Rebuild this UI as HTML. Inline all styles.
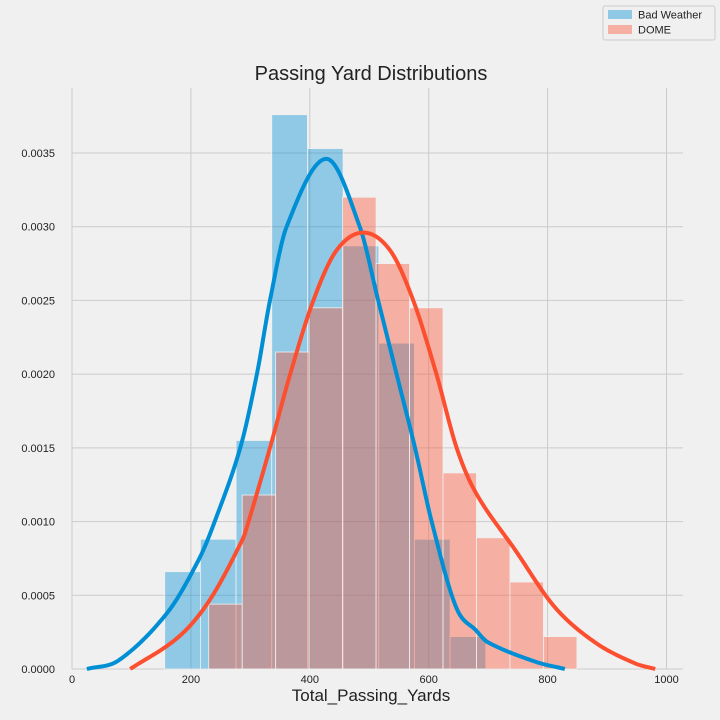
<!DOCTYPE html>
<html><head><meta charset="utf-8"><style>
html,body{margin:0;padding:0;background:#f0f0f0;}
svg{display:block;font-family:"Liberation Sans","DejaVu Sans",sans-serif;}
</style></head><body>
<svg id="chart" width="720" height="720" viewBox="0 0 720 720" xmlns="http://www.w3.org/2000/svg">
<rect width="720" height="720" fill="#f0f0f0"/>
<g id="grid"></g>
<g id="bars"></g>
<g id="lines"></g>
<g id="ticks"></g>
<text x="371" y="80" font-size="20" fill="#222" text-anchor="middle">Passing Yard Distributions</text>
<text x="371" y="701" font-size="17" fill="#222" text-anchor="middle">Total_Passing_Yards</text>
<g>
<rect x="603" y="6" width="112" height="34" fill="#f0f0f0" stroke="#ccc" rx="2"/>
<rect x="608" y="10" width="24" height="9" fill="#008fd5" fill-opacity="0.4"/>
<text x="638" y="18.5" font-size="11" fill="#222">Bad Weather</text>
<rect x="608" y="25" width="24" height="9" fill="#fc4f30" fill-opacity="0.4"/>
<text x="638" y="33.5" font-size="11" fill="#222">DOME</text>
</g>
</svg>
<script>
const xTicks=[0,200,400,600,800,1000];
const yTicks=[0,0.0005,0.001,0.0015,0.002,0.0025,0.003,0.0035];
const yTickLabels=["0.0000","0.0005","0.0010","0.0015","0.0020","0.0025","0.0030","0.0035"];
const badStart=156, badWidth=60;
const badHeights=[0.00066,0.00088,0.00155,0.00376,0.00353,0.00287,0.00221,0.00088,0.00022];
const domeStart=230, domeWidth=56.3;
const domeHeights=[0.00044,0.00118,0.00215,0.00245,0.0032,0.00275,0.00245,0.00133,0.00089,0.00059,0.00022];
const badKdeX=[25,79,160,213,240,283,311,333,361,428,484,515,546,577,605,646,680,700,779,829];
const badKdeY=[0,0.00006,0.00038,0.00074,0.001,0.0015,0.002,0.0025,0.003,0.00346,0.003,0.0025,0.002,0.0015,0.001,0.00042,0.00026,0.00018,0.00005,0];
const domeKdeX=[98,180,232,287,297,333,367,406,445,490,535,574,613,647,680,745,812,880,946,981];
const domeKdeY=[0,0.00022,0.00047,0.00088,0.001,0.0015,0.002,0.0025,0.00284,0.00296,0.00284,0.0025,0.002,0.0015,0.00119,0.00081,0.00042,0.00018,0.00004,0];
const NS="http://www.w3.org/2000/svg";
const L=72,R=683,T=88,B=669;
const xs=v=>72+v*0.5945;
const ys=v=>669-v*147429;
function mk(tag,attrs,parent){const e=document.createElementNS(NS,tag);for(const k in attrs)e.setAttribute(k,attrs[k]);parent.appendChild(e);return e;}
const grid=document.getElementById('grid'),ticks=document.getElementById('ticks'),bars=document.getElementById('bars'),lines=document.getElementById('lines');
xTicks.forEach(t=>{
 const l=mk('line',{x1:xs(t),x2:xs(t),y1:T,y2:B,stroke:'#cbcbcb','stroke-width':1},grid);
 
 
 const tx=mk('text',{x:xs(t),y:683,'font-size':11,fill:'#222','text-anchor':'middle'},ticks);
 tx.textContent=t;
 
 
});
yTicks.forEach((t,i)=>{
 const l=mk('line',{x1:L,x2:R,y1:ys(t),y2:ys(t),stroke:'#cbcbcb','stroke-width':1},grid);
 
 
 const tx=mk('text',{x:55,y:ys(t)+4,'font-size':11,fill:'#222','text-anchor':'end'},ticks);
 tx.textContent=yTickLabels[i];
 
 
});
function drawBars(start,w,hs,color,name){
 hs.forEach((h,i)=>{
  const x0=xs(start+i*w),x1=xs(start+(i+1)*w);
  const r=mk('rect',{x:x0,y:ys(h),width:x1-x0,height:ys(0)-ys(h),fill:color,'fill-opacity':0.4,stroke:'#f0f0f0','stroke-width':0.8},bars);
  
  
 });
}
drawBars(badStart,badWidth,badHeights,'#008fd5','bad-weather-bar');
drawBars(domeStart,domeWidth,domeHeights,'#fc4f30','dome-bar');
function hermite(xv,yv){
 const n=xv.length,m=new Array(n);
 m[0]=(yv[1]-yv[0])/(xv[1]-xv[0]);
 m[n-1]=(yv[n-1]-yv[n-2])/(xv[n-1]-xv[n-2]);
 for(let i=1;i<n-1;i++)m[i]=(yv[i+1]-yv[i-1])/(xv[i+1]-xv[i-1]);
 let path='M'+xs(xv[0])+','+ys(yv[0]);
 for(let i=0;i<n-1;i++){
  const h=xv[i+1]-xv[i];
  for(let v=xv[i]+2;v<xv[i+1];v+=2){
   const t=(v-xv[i])/h,t2=t*t,t3=t2*t;
   const y=Math.max(0,(2*t3-3*t2+1)*yv[i]+(t3-2*t2+t)*h*m[i]+(-2*t3+3*t2)*yv[i+1]+(t3-t2)*h*m[i+1]);
   path+=' L'+xs(v).toFixed(2)+','+ys(y).toFixed(2);
  }
  path+=' L'+xs(xv[i+1]).toFixed(2)+','+ys(yv[i+1]).toFixed(2);
 }
 return path;
}
const bl=mk('path',{d:hermite(badKdeX,badKdeY),fill:'none',stroke:'#008fd5','stroke-width':4,'stroke-linejoin':'round'},lines);


const dl=mk('path',{d:hermite(domeKdeX,domeKdeY),fill:'none',stroke:'#fc4f30','stroke-width':4,'stroke-linejoin':'round'},lines);


</script>
</body></html>
